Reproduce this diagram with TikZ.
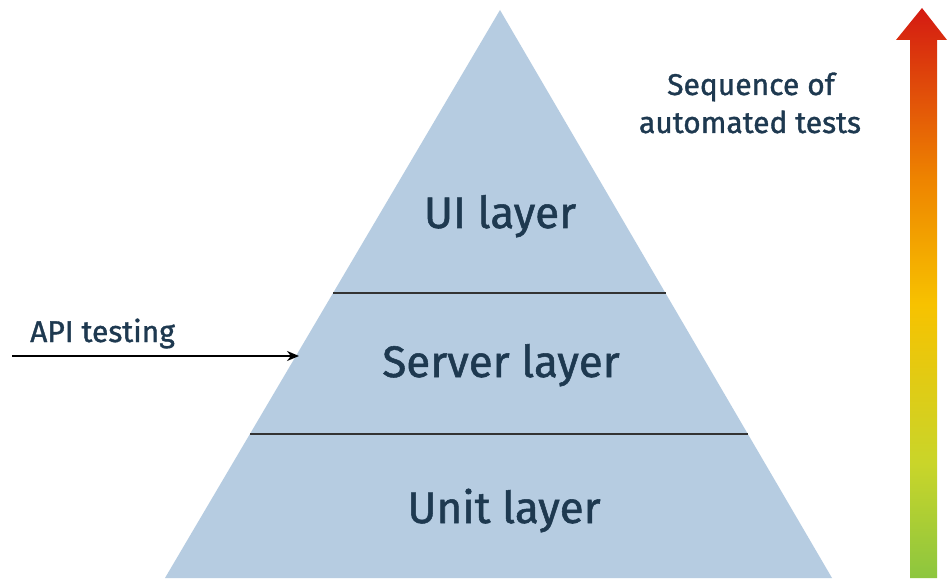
\documentclass[tikz,border=0pt]{standalone}
\usepackage{fontspec}
\setmainfont{Fira Sans}[FakeBold=1.2,BoldFont={Fira Sans}]
\usetikzlibrary{arrows.meta}
\definecolor{pyrfill}{HTML}{B6CCE1}
\definecolor{txt}{HTML}{1E3950}
\definecolor{gGreen}{HTML}{8CC63F}
\definecolor{gYG}{HTML}{C9D52A}
\definecolor{gYellow}{HTML}{F7C200}
\definecolor{gOrange}{HTML}{EE8400}
\definecolor{gRed}{HTML}{D41A12}
\pgfdeclareverticalshading{seqshade}{100bp}{color(0bp)=(gGreen);color(25bp)=(gGreen);color(35bp)=(gYG);color(49bp)=(gYellow);color(60bp)=(gOrange);color(75bp)=(gRed);color(100bp)=(gRed)}
\tikzset{
  layerlbl/.style={text=txt,font=\fontsize{44}{50}\selectfont\bfseries,inner sep=0pt,anchor=base},
  sidelbl/.style={text=txt,font=\fontsize{30}{38}\selectfont\bfseries,inner sep=0pt,anchor=base},
  divider/.style={draw=black!80,line width=1.8pt},
  apiarrow/.style={draw=black,line width=2.4pt,-{Stealth[length=12pt,width=10pt]}}
}
\begin{document}
\begin{tikzpicture}[x=1pt,y=-1pt]
\useasboundingbox (0,0) rectangle (948,580);
\fill[white] (0,0) rectangle (948,580);
% pyramid
\coordinate (apex) at (500,10);
\coordinate (bl) at (165,578);
\coordinate (br) at (832,578);
\fill[pyrfill] (apex) -- (br) -- (bl) -- cycle;
\coordinate (d1l) at (333,293);
\coordinate (d1r) at (666,293);
\coordinate (d2l) at (250,434);
\coordinate (d2r) at (748,434);
\draw[divider] (d1l) -- (d1r);
\draw[divider] (d2l) -- (d2r);
\node[layerlbl] (ui) at (500,228) {UI layer};
\node[layerlbl] (server) at (501,377) {Server layer};
\node[layerlbl] (unit) at (504,523) {Unit layer};
% API testing
\node[sidelbl,anchor=base west] (api) at (30,342) {API testing};
\coordinate (astart) at (12,356);
\coordinate (aend) at (299,356);
\draw[apiarrow] (astart) -- (aend);
% sequence arrow
\node[sidelbl] (seq1) at (751,95) {Sequence of};
\node[sidelbl] (seq2) at (750,133) {automated tests};
\shade[shading=seqshade] (910,578) -- (910,40) -- (896,40) -- (922,8) -- (947,40) -- (937,40) -- (937,578) -- cycle;
\end{tikzpicture}
\end{document}
